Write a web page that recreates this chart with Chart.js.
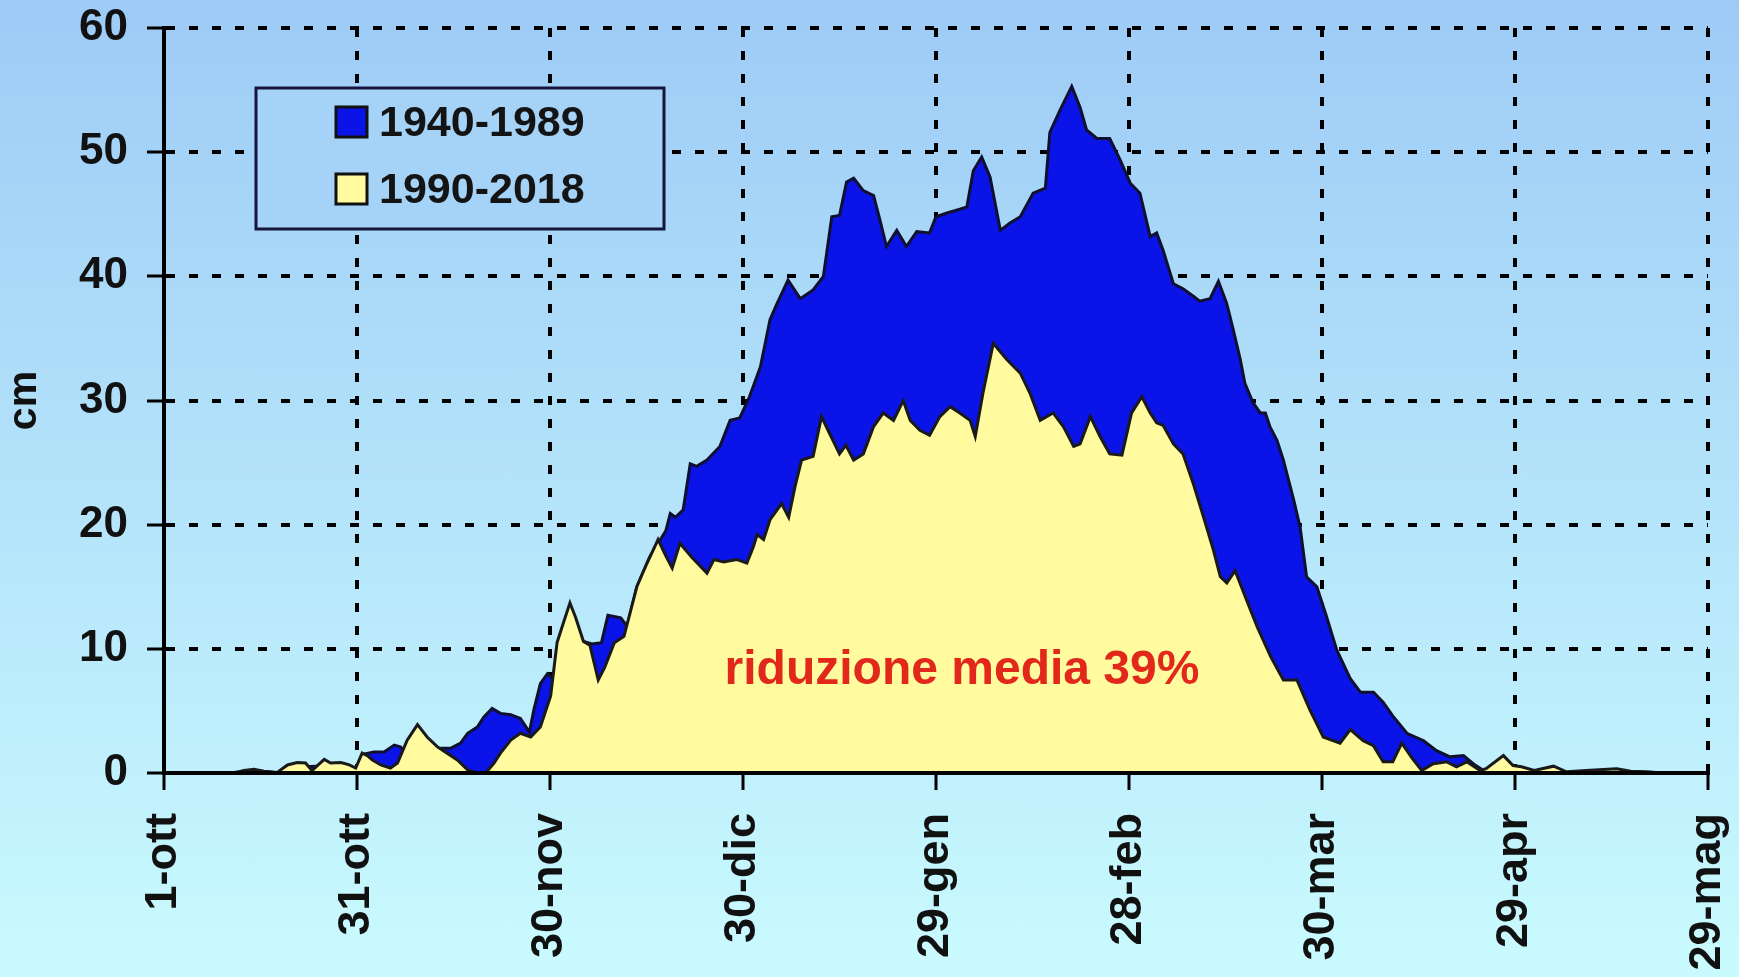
<!DOCTYPE html>
<html lang="it">
<head>
<meta charset="UTF-8">
<title>Altezza media della neve al suolo</title>
<script src="https://cdn.jsdelivr.net/npm/chart.js@4.4.1/dist/chart.umd.min.js"></script>
<style>
  html, body { margin: 0; padding: 0; }
  body {
    width: 1739px;
    height: 977px;
    overflow: hidden;
    background: linear-gradient(#9ecbf6, #c9fbfe);
  }
  .chart-box { position: relative; width: 1739px; height: 977px; }
</style>
</head>
<body>
<div class="chart-box"><canvas id="snowChart"></canvas></div>
<script>
// Tick labels, one every 30 days starting from 1 October (day 0)
const tickLabels = ['1-ott', '31-ott', '30-nov', '30-dic', '29-gen', '28-feb', '30-mar', '29-apr', '29-mag'];

// 1940-1989 mean snow depth (cm)
const daysOld = [0, 10, 14, 18, 22, 26, 30, 31, 32.6, 34.2, 35.8, 36.8, 37.5, 40, 43, 44.6, 46.1, 47.2, 48.7, 49.7,
  51, 52.3, 53.9, 55.4, 56.8, 57.5, 58.5, 59.6, 60.4, 62, 64, 65.2, 66.5, 68, 69, 71, 72, 73.5, 75.5, 76.8,
  78, 78.7, 79.5, 80.7, 81.8, 82.8, 84.4, 86.4, 88, 89.5, 91, 92.7, 94.2, 95.2, 97, 98.9, 100.9, 102.5, 103.8, 105,
  106.1, 107.2, 108.7, 110.3, 111.3, 112.3, 113.9, 115.4, 117, 119, 120, 121.7, 123.7, 124.8, 125.8, 127.1, 128.4, 130, 131.5, 133.1,
  135.1, 137, 137.7, 139.3, 141.1, 142.4, 143.4, 145, 147, 148.6, 150.2, 151.7, 153.3, 154.3, 155.3, 156.9, 158.4, 160, 161, 162.6,
  163.9, 165.2, 166.2, 167.3, 168, 169.3, 170.4, 171.2, 171.9, 173, 174, 175.6, 176.6, 177.6, 179.2, 180.7, 182.3, 184.4, 186, 188,
  189.5, 191, 193.2, 195.8, 197.8, 199.9, 202, 203.5, 205.1, 207, 210, 212, 240];
const snowOld = [0, 0, 0.2, 0, 0.5, 0.6, 0.3, 1.5, 1.7, 1.7, 2.25, 2.1, 1.5, 2.0, 2.0, 2.0, 2.4, 3.2, 3.7, 4.5,
  5.2, 4.8, 4.7, 4.4, 3.3, 5.1, 7.2, 8.0, 7.6, 8.5, 10.0, 10.6, 10.4, 10.5, 12.7, 12.5, 11.8, 15.0, 17.4, 18.5,
  19.5, 20.9, 20.6, 21.2, 24.9, 24.7, 25.2, 26.3, 28.4, 28.6, 30.3, 32.7, 36.5, 37.7, 39.7, 38.2, 38.9, 40.0, 44.8, 44.9,
  47.6, 47.9, 46.9, 46.5, 44.5, 42.4, 43.7, 42.4, 43.6, 43.5, 44.8, 45.1, 45.4, 45.6, 48.5, 49.6, 48.0, 43.7, 44.3, 44.8,
  46.7, 47.1, 51.6, 53.4, 55.3, 53.6, 51.8, 51.1, 51.1, 49.4, 47.5, 46.7, 43.2, 43.5, 42.1, 39.4, 39.0, 38.4, 38.0, 38.2,
  39.6, 37.8, 35.7, 33.3, 31.4, 29.8, 29.0, 29.0, 27.9, 26.8, 25.2, 22.0, 19.8, 15.8, 15.0, 12.6, 9.9, 7.6, 6.5, 6.5,
  5.7, 4.6, 3.2, 2.6, 1.8, 1.3, 1.4, 0.75, 0.2, 0.3, 0.1, 0, 0];

// 1990-2018 mean snow depth (cm)
const daysNew = [0, 11, 12.4, 14, 15.5, 17.6, 19.2, 20.7, 22, 23, 24.9, 25.9, 27.5, 28.8, 29.8, 30.8, 31.6, 32.4, 33.7, 35.2,
  36.3, 37.8, 39.4, 40.9, 42.5, 44, 45.6, 47.2, 48.7, 50, 51.3, 52.3, 53.9, 55.4, 57, 58.5, 60.1, 61.1, 61.9, 63.1,
  64, 65.2, 66.2, 67.5, 68.5, 70, 71.5, 73.5, 75, 76.8, 78, 79, 80.2, 82, 84.4, 85.5, 87, 89, 90.6, 91.6,
  92.2, 93.2, 94.2, 96, 97.1, 98.1, 99.1, 100.9, 102.2, 103.5, 105, 106, 107.2, 108.7, 110.3, 111.8, 113.4, 114.9, 116, 117.5,
  119, 120.6, 122.2, 123.7, 125.3, 126.1, 127.3, 128.9, 131, 133.1, 134.6, 136.2, 138.2, 139.8, 141.4, 142.4, 144, 145.5, 147, 148.9,
  150.4, 152, 153.3, 154.3, 155.3, 156.9, 158.4, 160, 161.6, 163.1, 164.2, 165.2, 166.5, 168.3, 169.9, 172, 174, 176.1, 178.1, 180.2,
  182.8, 184.4, 186.4, 188, 189.5, 191, 192.4, 194, 195.5, 197.3, 199.4, 200.9, 202.5, 204.6, 205.5, 208.2, 209.7, 211, 213, 216,
  218, 221, 225.8, 228, 230.5, 233, 240];
const snowNew = [0, 0, 0.2, 0.3, 0.15, 0.05, 0.65, 0.85, 0.8, 0.2, 1.1, 0.8, 0.85, 0.65, 0.4, 1.6, 1.4, 1.05, 0.65, 0.4,
  0.8, 2.65, 3.9, 2.9, 2.1, 1.6, 1.05, 0.25, 0, 0, 0.8, 1.6, 2.65, 3.2, 2.9, 3.7, 6.2, 10.5, 11.8, 13.7,
  12.5, 10.6, 10.3, 7.5, 8.5, 10.5, 11.0, 15.0, 16.8, 18.8, 17.5, 16.5, 18.5, 17.4, 16.1, 17.2, 17.0, 17.2, 16.9, 18.2,
  19.2, 18.8, 20.4, 21.7, 20.6, 23.1, 25.2, 25.5, 28.7, 27.3, 25.7, 26.4, 25.2, 25.7, 27.9, 29.0, 28.4, 30.0, 28.4, 27.6,
  27.2, 28.7, 29.5, 29.0, 28.4, 27.1, 30.6, 34.6, 33.3, 32.2, 30.6, 28.4, 29.0, 27.9, 26.3, 26.5, 28.7, 27.1, 25.7, 25.6,
  29.0, 30.3, 29.0, 28.2, 28.0, 26.5, 25.7, 23.3, 20.6, 18.0, 15.8, 15.3, 16.3, 13.9, 11.8, 9.4, 7.5, 7.5, 5.1, 2.9,
  2.4, 3.5, 2.6, 2.2, 0.9, 0.9, 2.4, 1.2, 0.2, 0.75, 0.9, 0.5, 0.9, 0.2, 0.35, 1.4, 0.6, 0.5, 0.2, 0.55,
  0.1, 0.2, 0.35, 0.15, 0.1, 0, 0];

const FONT = '"Liberation Sans", Arial, sans-serif';

// Framed legend in the upper left corner
const legendBox = {
  id: 'legendBox',
  afterDraw(chart) {
    const ctx = chart.ctx;
    ctx.save();
    ctx.fillStyle = '#a5d3f7';
    ctx.fillRect(256, 88, 408, 141);
    ctx.lineWidth = 3;
    ctx.strokeStyle = '#14143c';
    ctx.strokeRect(256, 88, 408, 141);

    ctx.font = 'bold 43px ' + FONT;
    ctx.textBaseline = 'middle';
    const rows = [122, 189];
    chart.data.datasets.forEach((ds, i) => {
      ctx.fillStyle = ds.backgroundColor;
      ctx.fillRect(336, rows[i] - 15, 31, 30);
      ctx.strokeStyle = '#111';
      ctx.strokeRect(336, rows[i] - 15, 31, 30);
      ctx.fillStyle = '#141414';
      ctx.fillText(ds.label, 379, rows[i] + 2);
    });
    ctx.restore();
  }
};

// Red note inside the yellow area
const reductionNote = {
  id: 'reductionNote',
  afterDatasetsDraw(chart) {
    const ctx = chart.ctx;
    ctx.save();
    ctx.font = 'bold 48px ' + FONT;
    ctx.fillStyle = '#e2281b';
    ctx.textAlign = 'center';
    ctx.fillText('riduzione media 39%', 962, 684);
    ctx.restore();
  }
};

// Initialize Chart
function initChart() {
  const ctx = document.getElementById('snowChart').getContext('2d');

  new Chart(ctx, {
    type: 'line',
    data: {
      datasets: [{
        label: '1940-1989',
        data: daysOld.map((d, i) => ({ x: d, y: snowOld[i] })),
        backgroundColor: '#0a14e8',
        borderColor: '#101030',
        borderWidth: 3,
        fill: 'origin',
        pointRadius: 0,
        tension: 0,
        order: 2
      }, {
        label: '1990-2018',
        data: daysNew.map((d, i) => ({ x: d, y: snowNew[i] })),
        backgroundColor: '#fffb9e',
        borderColor: '#1a1a1a',
        borderWidth: 3,
        fill: 'origin',
        pointRadius: 0,
        tension: 0,
        order: 1
      }]
    },
    options: {
      responsive: true,
      maintainAspectRatio: false,
      animation: false,
      devicePixelRatio: 1,
      layout: { padding: { top: 28, right: 31, left: 0, bottom: 0 } },
      scales: {
        x: {
          type: 'linear',
          min: 0,
          max: 240,
          // fixed band under the plot, no extra side padding for the rotated labels
          afterFit: (scale) => {
            scale.height = 204;
            scale.paddingLeft = 0;
            scale.paddingRight = 0;
          },
          grid: {
            color: '#000',
            lineWidth: 4,
            tickLength: 17,
            tickWidth: 3,
            tickColor: '#000',
            tickBorderDash: []
          },
          border: { color: '#000', width: 4, dash: [9, 14], z: 1 },
          ticks: {
            stepSize: 30,
            autoSkip: false,
            minRotation: 90,
            maxRotation: 90,
            padding: 23,
            color: '#111',
            font: { family: FONT, size: 45, weight: 'bold' },
            callback: (value) => tickLabels[value / 30]
          }
        },
        y: {
          min: 0,
          max: 60,
          afterFit: (scale) => {
            scale.width = 164;
            scale.paddingTop = 0;
            scale.paddingBottom = 0;
          },
          grid: {
            color: '#000',
            lineWidth: 4,
            tickLength: 17,
            tickWidth: 3,
            tickColor: '#000',
            tickBorderDash: []
          },
          border: { color: '#000', width: 4, dash: [9, 14], z: 1 },
          ticks: {
            stepSize: 10,
            padding: 19,
            color: '#111',
            font: { family: FONT, size: 44, weight: 'bold' }
          },
          title: {
            display: true,
            text: 'cm',
            color: '#111',
            padding: 0,
            font: { family: FONT, size: 41, weight: 'bold' }
          }
        }
      },
      plugins: {
        legend: { display: false },
        tooltip: { enabled: false }
      }
    },
    plugins: [reductionNote, legendBox]
  });
}

document.addEventListener('DOMContentLoaded', initChart);
</script>
</body>
</html>
